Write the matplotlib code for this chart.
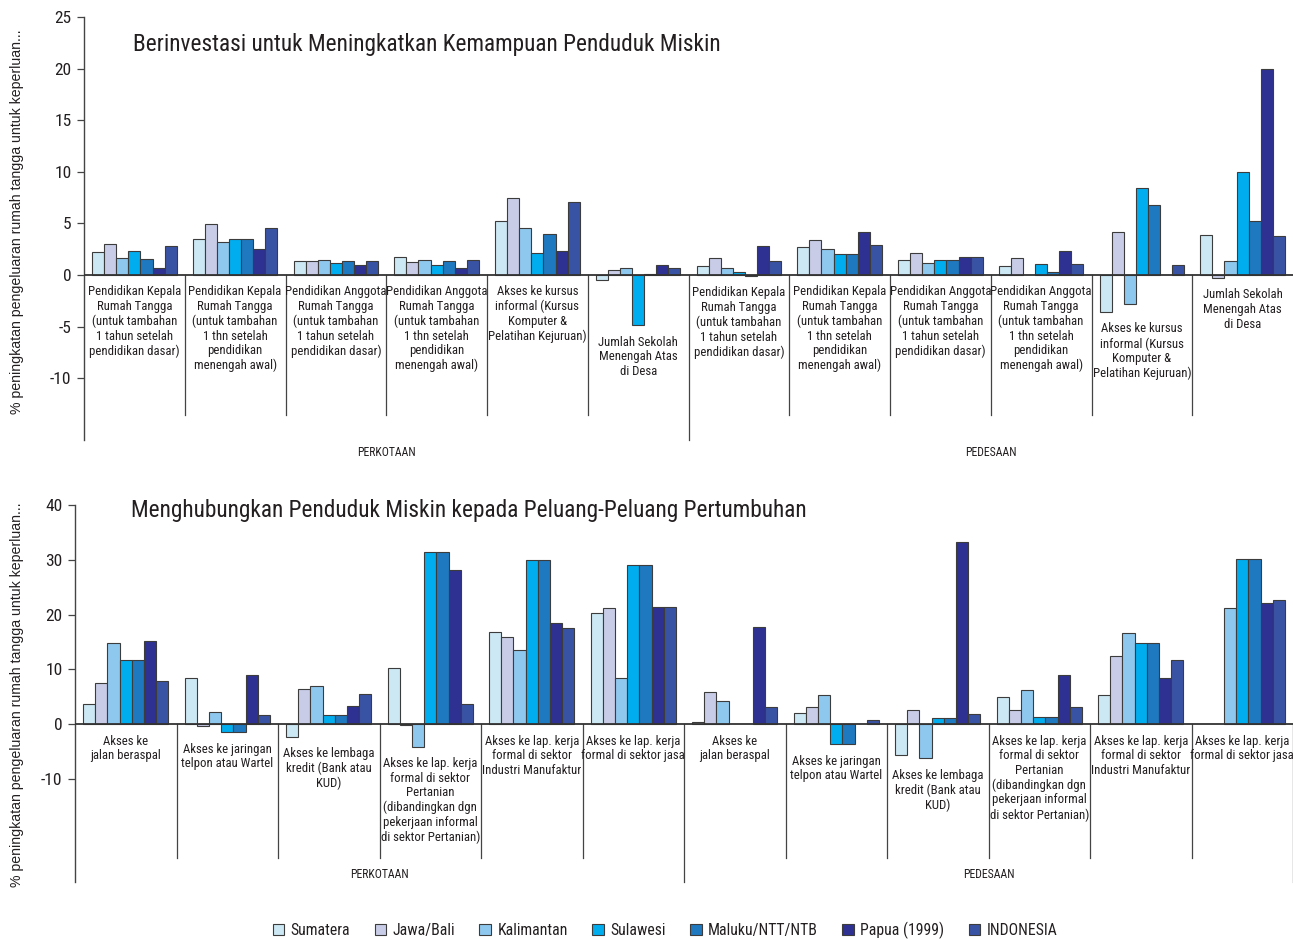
import numpy as np
import matplotlib
matplotlib.use("Agg")
import matplotlib.pyplot as plt
from matplotlib import font_manager as fm
from matplotlib.patches import Patch

plt.rcParams["axes.unicode_minus"] = False

# ---------------- data ----------------
series = ["Sumatera", "Jawa/Bali", "Kalimantan", "Sulawesi", "Maluku/NTT/NTB",
          "Papua (1999)", "INDONESIA"]
colors = ["#CCE8F4", "#C9CCE7", "#8EC8EE", "#00AEEF", "#1F79C0", "#2E3192", "#3953A4"]

groups = ["PERKOTAAN", "PEDESAAN"]

inv_categories = [
    "Pendidikan Kepala\nRumah Tangga\n(untuk tambahan\n1 tahun setelah\npendidikan dasar)",
    "Pendidikan Kepala\nRumah Tangga\n(untuk tambahan\n1 thn setelah\npendidikan\nmenengah awal)",
    "Pendidikan Anggota\nRumah Tangga\n(untuk tambahan\n1 tahun setelah\npendidikan dasar)",
    "Pendidikan Anggota\nRumah Tangga\n(untuk tambahan\n1 thn setelah\npendidikan\nmenengah awal)",
    "Akses ke kursus\ninformal (Kursus\nKomputer &\nPelatihan Kejuruan)",
    "Jumlah Sekolah\nMenengah Atas\ndi Desa",
]
con_categories = [
    "Akses ke\njalan beraspal",
    "Akses ke jaringan\ntelpon atau Wartel",
    "Akses ke lembaga\nkredit (Bank atau\nKUD)",
    "Akses ke lap. kerja\nformal di sektor\nPertanian\n(dibandingkan dgn\npekerjaan informal\ndi sektor Pertanian)",
    "Akses ke lap. kerja\nformal di sektor\nIndustri Manufaktur",
    "Akses ke lap. kerja\nformal di sektor jasa",
]

nan = np.nan
# Top panel: 6 urban categories followed by 6 rural categories
inv_sumatera   = [2.2, 3.45, 1.35, 1.75, 5.25, -0.45, 0.9, 2.7, 1.45, 0.9, -3.6, 3.9]
inv_jawabali   = [3.0, 4.9, 1.35, 1.3, 7.5, 0.45, 1.65, 3.35, 2.1, 1.65, 4.15, -0.3]
inv_kalimantan = [1.65, 3.2, 1.45, 1.45, 4.55, 0.7, 0.7, 2.55, 1.2, nan, -2.8, 1.35]
inv_sulawesi   = [2.35, 3.45, 1.2, 1.0, 2.1, -4.9, 0.3, 2.0, 1.45, 1.1, 8.4, 9.95]
inv_maluku     = [1.55, 3.45, 1.35, 1.35, 4.0, 0.12, -0.1, 2.0, 1.45, 0.3, 6.8, 5.25]
inv_papua      = [0.7, 2.55, 1.0, 0.7, 2.35, 1.0, 2.8, 4.15, 1.75, 2.35, nan, 20.0]
inv_indonesia  = [2.8, 4.55, 1.35, 1.45, 7.05, 0.7, 1.35, 2.9, 1.75, 1.1, 1.0, 3.8]

# Bottom panel
con_sumatera   = [3.65, 8.35, -2.25, 10.2, 16.9, 20.2, 0.35, 2.0, -5.7, 4.9, 5.3, nan]
con_jawabali   = [7.55, -0.4, 6.5, -0.2, 15.95, 21.25, 5.8, 3.05, 2.5, 2.5, 12.5, nan]
con_kalimantan = [14.85, 2.25, 6.9, -4.1, 13.6, 8.5, 4.15, 5.3, -6.25, 6.15, 16.55, 21.25]
con_sulawesi   = [11.8, -1.45, 1.6, 31.4, 29.95, 29.0, nan, -3.65, 1.05, 1.4, 14.75, 30.2]
con_maluku     = [11.8, -1.45, 1.6, 31.4, 29.95, 29.0, nan, -3.65, 1.05, 1.4, 14.75, 30.2]
con_papua      = [15.1, 9.0, 3.4, 28.2, 18.55, 21.4, 17.8, nan, 33.3, 9.0, 8.35, 22.1]
con_indonesia  = [7.8, 1.6, 5.5, 3.65, 17.5, 21.4, 3.05, 0.85, 1.85, 3.05, 11.65, 22.65]

inv_title = "Berinvestasi untuk Meningkatkan Kemampuan Penduduk Miskin"
con_title = "Menghubungkan Penduduk Miskin kepada Peluang-Peluang Pertumbuhan"
ylabel = "% peningkatan pengeluaran rumah tangga untuk keperluan..."

# ---------------- fonts ----------------
avail = {f.name for f in fm.fontManager.ttflist}
def pick(names, default="DejaVu Sans"):
    for n in names:
        if n in avail:
            return n
    return default

NARROW = pick(["Liberation Sans Narrow", "Roboto Condensed", "Open Sans Condensed"])
NARROW_KW = {"family": NARROW}
if NARROW == "DejaVu Sans":
    NARROW_KW["stretch"] = "condensed"
REGULAR = pick(["Liberation Sans", "Arial", "Helvetica"])

TEXT = "#231F20"

# ---------------- figure ----------------
W, H = 1293, 940
fig = plt.figure(figsize=(W / 100, H / 100), dpi=100)

def panel(rect, data, cats, ylim, yticks, sep_bottom, title, title_xy, right_sep, group_y):
    ax = fig.add_axes(rect)
    vals = np.array(data, dtype=float)  # series x categories
    ncat = vals.shape[1]
    nser = vals.shape[0]
    bw = 0.84 / nser
    x = np.arange(ncat) + 0.5
    for j in range(nser):
        ax.bar(x + (j - (nser - 1) / 2) * bw, vals[j], width=bw, color=colors[j],
               edgecolor="#3C3C3C", linewidth=0.8, zorder=2)
    ax.set_xlim(0, ncat)
    ax.set_ylim(*ylim)
    ax.set_yticks(yticks)
    ax.set_yticklabels([str(t) for t in yticks], fontsize=12.5, color=TEXT, **NARROW_KW)
    ax.tick_params(axis="y", length=5, width=0.9, color="#444444", pad=4)
    ax.set_xticks([])
    for s in ["top", "right", "bottom"]:
        ax.spines[s].set_visible(False)
    ax.spines["left"].set_color("#444444")
    ax.spines["left"].set_linewidth(1.0)
    ax.axhline(0, color="#333333", lw=1.3, zorder=3)
    ngroup = len(groups)
    per = ncat // ngroup
    for k in range(1, ncat + (1 if right_sep else 0)):
        bottom = ylim[0] if k % per == 0 else sep_bottom
        ax.plot([k, k], [0, bottom], color="#444444", lw=0.9, zorder=1, clip_on=False)
    # category labels
    labels = cats + cats
    for i in range(ncat):
        low = min(0.0, np.nanmin(vals[:, i]))
        ax.annotate(labels[i], (x[i], low), xytext=(0, -7.5), textcoords="offset points",
                    ha="center", va="top", fontsize=9.2, linespacing=1.16, color=TEXT,
                    **NARROW_KW)
    # group labels
    for g, name in enumerate(groups):
        gx = ax.transData.transform((per * g + per / 2, 0))[0] / W
        fig.text(gx, 1 - group_y / H, name, ha="center", va="center",
                 fontsize=8.5, color=TEXT, **NARROW_KW)
    fig.text(title_xy[0] / W, 1 - title_xy[1] / H, title, ha="left", va="center",
             fontsize=16.8, color=TEXT, **NARROW_KW)
    return ax

inv_data = [inv_sumatera, inv_jawabali, inv_kalimantan, inv_sulawesi, inv_maluku,
            inv_papua, inv_indonesia]
con_data = [con_sumatera, con_jawabali, con_kalimantan, con_sulawesi, con_maluku,
            con_papua, con_indonesia]

ax1 = panel([84 / W, 1 - 440 / H, (W - 84) / W, (440 - 17) / H], inv_data, inv_categories,
            (-16, 25), [-10, -5, 0, 5, 10, 15, 20, 25], -13.6, inv_title, (133, 45),
            False, 453)
ax2 = panel([75 / W, 1 - 882 / H, (W - 75) / W, (882 - 505) / H], con_data, con_categories,
            (-28.8, 40), [-10, 0, 10, 20, 30, 40], -24.4, con_title, (131, 511),
            True, 874)

fig.text(17 / W, 1 - 222 / H, ylabel, rotation=90, ha="center", va="center",
         fontsize=10.2, family=REGULAR, color=TEXT)
fig.text(17 / W, 1 - 695 / H, ylabel, rotation=90, ha="center", va="center",
         fontsize=10.2, family=REGULAR, color=TEXT)

handles = [Patch(facecolor=c, edgecolor="#3C3C3C", linewidth=0.8) for c in colors]
fig.legend(handles, series, loc="center", bbox_to_anchor=(665 / W, 1 - 930 / H), ncol=7,
           frameon=False, handlelength=0.75, handleheight=0.75, handletextpad=0.4,
           columnspacing=1.55, prop=fm.FontProperties(size=11.3, **NARROW_KW),
           labelcolor=TEXT)

fig.savefig("out.png", dpi=100)
